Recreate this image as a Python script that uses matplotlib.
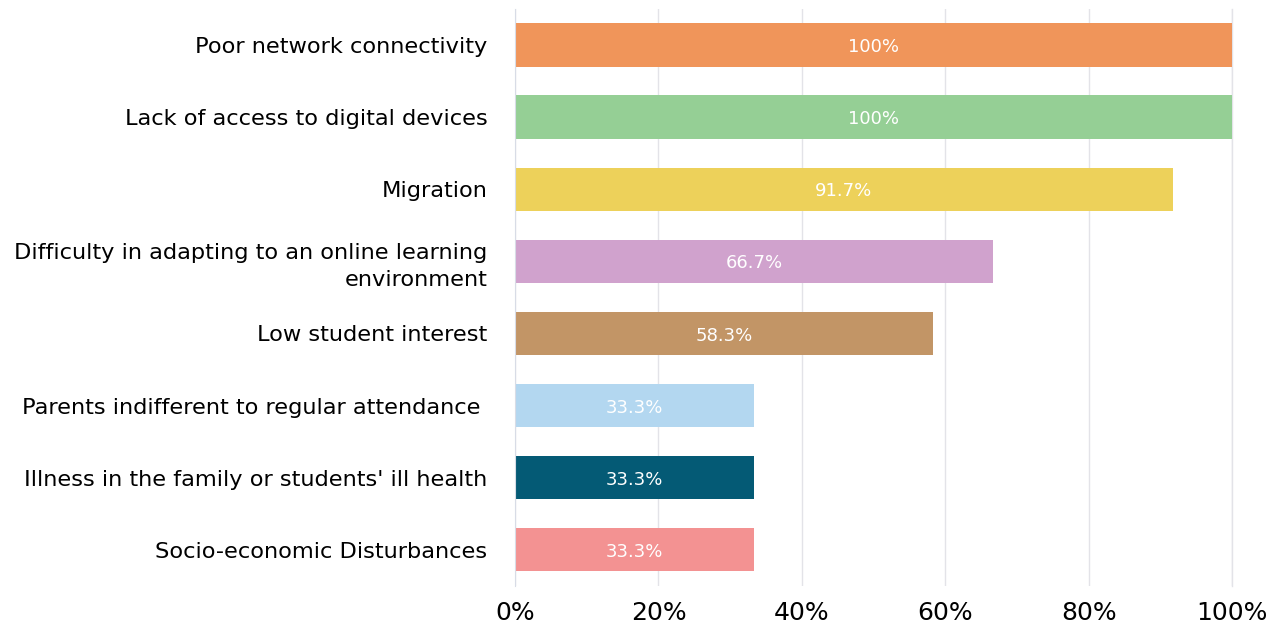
import matplotlib.pyplot as plt
from matplotlib.ticker import PercentFormatter

# reasons for dropout / absence, top to bottom
categories = [
    'Poor network connectivity',
    'Lack of access to digital devices',
    'Migration',
    'Difficulty in adapting to an online learning\nenvironment',
    'Low student interest',
    'Parents indifferent to regular attendance ',
    "Illness in the family or students' ill health",
    'Socio-economic Disturbances',
]
values = [100, 100, 91.7, 66.7, 58.3, 33.3, 33.3, 33.3]
labels = ['100%', '100%', '91.7%', '66.7%', '58.3%', '33.3%', '33.3%', '33.3%']
colors = ['#F0955A', '#95CF95', '#EDD15A', '#D0A2CD',
          '#C29566', '#B3D7F0', '#045A75', '#F39292']

fig = plt.figure(figsize=(12.79, 6.3), dpi=100)
ax = fig.add_axes([0.4027, 0.07, 0.5606, 0.916])

ypos = list(range(len(categories)))[::-1]
bars = ax.barh(ypos, values, height=0.6, color=colors, zorder=2)

for b, txt in zip(bars, labels):
    ax.text(b.get_width() / 2, b.get_y() + b.get_height() / 2 - 0.03, txt,
            ha='center', va='center', color='white', fontsize=13, zorder=3)

ax.set_yticks(ypos)
ax.set_yticklabels(categories, fontsize=16.2, ha='right', linespacing=1.45)
ax.set_xlim(0, 100)
ax.set_ylim(-0.5, 7.5)
ax.set_xticks([0, 20, 40, 60, 80, 100])
ax.xaxis.set_major_formatter(PercentFormatter(decimals=0))
ax.tick_params(axis='x', labelsize=18, length=0, pad=11)
ax.tick_params(axis='y', length=0, pad=20)

ax.grid(axis='x', color='#E3E3E8', linewidth=1, zorder=0)
ax.axvline(100, color='#E3E3E8', linewidth=1, zorder=0, clip_on=False)
for s in ['top', 'right', 'bottom']:
    ax.spines[s].set_visible(False)
ax.spines['left'].set_color('#D8DCE6')

fig.savefig('out.png', dpi=100)
